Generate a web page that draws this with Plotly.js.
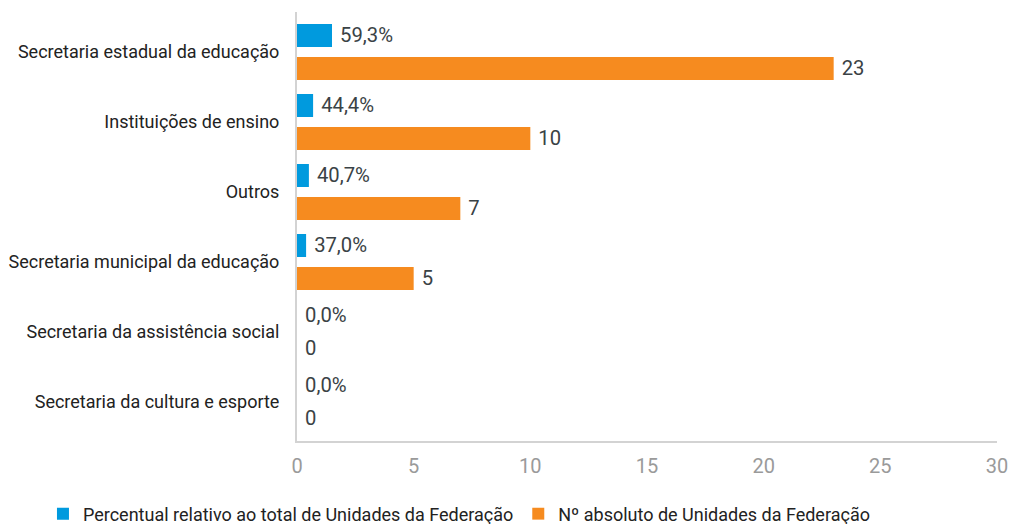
<!DOCTYPE html>
<html>
<head>
<meta charset="utf-8">
<script src="https://cdn.plot.ly/plotly-3.0.1.min.js"></script>
<style>
  html, body { margin: 0; padding: 0; background: #fff; }
  #chart { width: 1011px; height: 524px; }
</style>
</head>
<body>
<div id="chart"></div>
<script>
const categories = [
  "Secretaria estadual da educação",
  "Instituições de ensino",
  "Outros",
  "Secretaria municipal da educação",
  "Secretaria da assistência social",
  "Secretaria da cultura e esporte"
];
// Bar lengths of the percentage series as drawn on the shared axis
const pctBarValues = [1.5, 0.69, 0.51, 0.39, 0, 0];
const pctLabels = ["59,3%", "44,4%", "40,7%", "37,0%", "0,0%", "0,0%"];
const absValues = [23, 10, 7, 5, 0, 0];
const absLabels = ["23", "10", "7", "5", "0", "0"];
const seriesNames = [
  "Percentual relativo ao total de Unidades da Federação",
  "Nº absoluto de Unidades da Federação"
];
const xTicks = [0, 5, 10, 15, 20, 25, 30];

const FONT = "Roboto, 'Noto Sans', Arial, sans-serif";
const labelFont = { family: FONT, size: 22, color: "#3a4245" };

const traces = [
  {
    type: "bar", orientation: "h",
    name: seriesNames[0],
    y: categories, x: pctBarValues,
    text: pctLabels, texttemplate: "\u00A0%{text}",
    textposition: "outside", cliponaxis: false,
    textfont: labelFont,
    marker: { color: "#009ADE" },
    hoverinfo: "skip"
  },
  {
    type: "bar", orientation: "h",
    name: seriesNames[1],
    y: categories, x: absValues,
    text: absLabels, texttemplate: "\u00A0%{text}",
    textposition: "outside", cliponaxis: false,
    textfont: labelFont,
    marker: { color: "#F68B1F" },
    hoverinfo: "skip"
  }
];

const layout = {
  width: 1011, height: 524,
  margin: { l: 297, r: 14, t: 12, b: 83, pad: 0, autoexpand: false },
  paper_bgcolor: "#ffffff",
  plot_bgcolor: "#ffffff",
  barmode: "group",
  bargap: 0.057,
  bargroupgap: 0.303,
  showlegend: true,
  legend: {
    orientation: "h",
    xref: "paper", yref: "paper",
    x: -0.3629, y: -0.17, xanchor: "left", yanchor: "middle",
    font: { family: FONT, size: 18, color: "#222" },
    traceorder: "normal",
    itemclick: false
  },
  xaxis: {
    range: [0, 30],
    tickvals: xTicks,
    ticktext: xTicks.map(String),
    showgrid: false,
    zeroline: false,
    showline: true, linecolor: "#d3d3d3", linewidth: 2,
    ticks: "",
    ticklabelstandoff: 6,
    tickfont: { family: FONT, size: 20, color: "#9a9a9a" },
    fixedrange: true
  },
  yaxis: {
    type: "category",
    range: [5.557, -0.571],
    showgrid: false,
    zeroline: false,
    showline: true, linecolor: "#d3d3d3", linewidth: 2,
    ticks: "",
    ticklabelstandoff: 12,
    tickfont: { family: FONT, size: 18, color: "#222" },
    fixedrange: true
  },
  font: { family: FONT }
};

Plotly.newPlot("chart", traces, layout, { displayModeBar: false, staticPlot: true });
</script>
</body>
</html>
